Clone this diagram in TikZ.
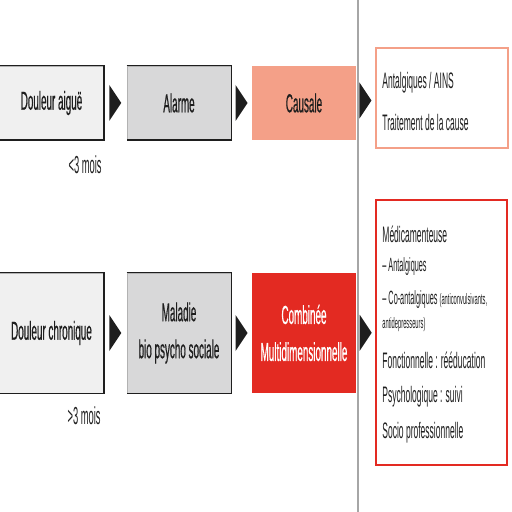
\documentclass[tikz,border=0pt]{standalone}
\usepackage{fontspec}
\setmainfont{Liberation Sans}[FakeStretch=0.38]
\newfontfamily\boxfont{Liberation Sans}[FakeStretch=0.38,FakeBold=0.5]
\usetikzlibrary{calc}
\definecolor{saumon}{HTML}{F4A088}
\definecolor{rouge}{HTML}{E32A22}
\definecolor{grisclair}{HTML}{F0F0F0}
\definecolor{grismoyen}{HTML}{D8D8D9}
\definecolor{encre}{HTML}{1E1E1E}
\begin{document}
\begin{tikzpicture}[x=0.5pt, y=-0.5pt, every node/.style={text=encre},
    etape/.style={minimum width=52pt, inner sep=0pt, align=center, font=\boxfont\fontsize{13}{18.5}\selectfont},
    liste/.style={anchor=west, inner sep=0pt, font=\fontsize{11.2}{13}\selectfont}]
    \useasboundingbox (0,0) rectangle (512,512);
    \draw[gray!70, line width=0.8pt] (358,0) -- (358,512);

    % Douleur aigue
    \node[etape, minimum height=37pt, fill=grisclair, draw=gray!60, thin] (da) at (51.5,103) {Douleur aiguë};
    \node[etape, minimum height=37pt, fill=grismoyen, draw=gray!60, thin] (al) at (179,103) {Alarme};
    \node[etape, minimum height=37pt, fill=saumon] (ca) at (304,103) {Causale};
    \node[draw=saumon, line width=1pt, minimum width=66pt, minimum height=50pt] (tr1) at (441.5,98) {};
    \node[liste] (t11) at (382,83) {Antalgiques / AINS};
    \node[liste] (t12) at (382,122) {Traitement de la cause};
    \node[anchor=east, inner sep=0pt, font=\fontsize{12.3}{14}\selectfont] (m1) at (102,165) {<3 mois};

    % Douleur chronique
    \node[etape, minimum height=60pt, fill=grisclair, draw=gray!60, thin] (dc) at (51.5,333) {Douleur chronique};
    \node[etape, minimum height=60pt, fill=grismoyen, draw=gray!60, thin] (ma) at (179,333) {Maladie\\bio psycho sociale};
    \node[etape, minimum height=60pt, fill=rouge, text=white] (co) at (304,333) {Combinée\\Multidimensionnelle};
    \node[draw=rouge, line width=1pt, minimum width=65.5pt, minimum height=132.5pt] (tr2) at (441.5,332.5) {};
    \node[liste] (t21) at (382,234) {Médicamenteuse};
    \node[liste, font=\fontsize{9.6}{11}\selectfont] (t22) at (382,267) {– Antalgiques};
    \node[liste, font=\fontsize{9.6}{11}\selectfont] (t23) at (382,300) {– Co-antalgiques {\fontsize{7.6}{9}\selectfont(anticonvulsivants,}};
    \node[liste, font=\fontsize{7.6}{9}\selectfont] (t24) at (382,325) {antidepresseurs)};
    \node[liste] (t25) at (382,360) {Fonctionnelle : rééducation};
    \node[liste] (t26) at (382,397) {Psychologique : suivi};
    \node[liste] (t27) at (382,433) {Socio professionnelle};
    \node[anchor=east, inner sep=0pt, font=\fontsize{12.3}{14}\selectfont] (m2) at (101,416) {>3 mois};

    \foreach \n in {da,al,dc,ma}
        \draw[encre, line width=0.9pt] (\n.north west) -- (\n.north east) -- (\n.south east) -- (\n.south west);
    \foreach \u/\v in {da/al, al/ca, ca/tr1, dc/ma, ma/co, co/tr2}
        \fill[encre] ($(\u.east)!0.5!(\v.west)+(-6,-18)$) -- ($(\u.east)!0.5!(\v.west)+(6,0)$) -- ($(\u.east)!0.5!(\v.west)+(-6,18)$) -- cycle;
\end{tikzpicture}
\end{document}
